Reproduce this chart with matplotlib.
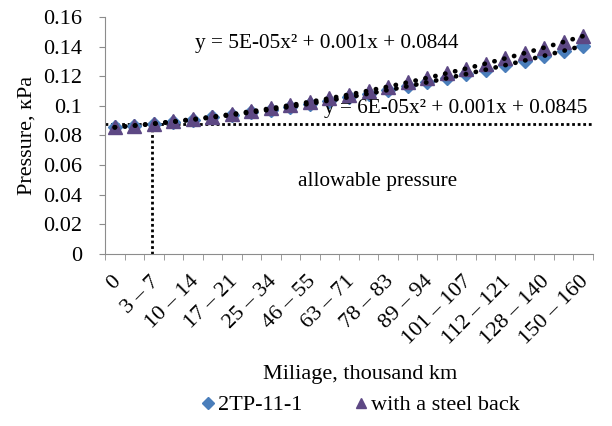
import matplotlib
matplotlib.use("Agg")
import matplotlib.pyplot as plt
import numpy as np

# shown category labels (Excel shows every second one)
shown_labels = ["0", "3 \u2013 7", "10 \u2013 14", "17 \u2013 21", "25 \u2013 34", "46 \u2013 55",
                "63 \u2013 71", "78 \u2013 83", "89 \u2013 94", "101 \u2013 107", "112 \u2013 121",
                "128 \u2013 140", "150 \u2013 160"]
n_cat = 25

p_2tp = [0.0855, 0.0866, 0.0878, 0.0892, 0.0907, 0.0922, 0.0939, 0.0956, 0.0975, 0.0994,
         0.1015, 0.1036, 0.1059, 0.1082, 0.1107, 0.1132, 0.1159, 0.1186, 0.1215, 0.1244,
         0.1275, 0.1306, 0.1339, 0.1372, 0.1405]
p_steel = [0.0856, 0.0867, 0.0880, 0.0895, 0.0910, 0.0927, 0.0944, 0.0963, 0.0984, 0.1005,
           0.1028, 0.1051, 0.1076, 0.1103, 0.1130, 0.1159, 0.1188, 0.1219, 0.1252, 0.1285,
           0.1320, 0.1355, 0.1392, 0.1431, 0.1475]
allowable = 0.088
allow_cat = 2

eq_2tp = "y = 5E-05x\u00b2 + 0.001x + 0.0844"
eq_steel = "y = 6E-05x\u00b2 + 0.001x + 0.0845"

plt.rcParams["font.family"] = ["Liberation Serif", "DejaVu Serif"]

BLUE = "#4a7ebb"
PURPLE = "#5d4884"
GRAY = "#8c8c8c"
FS = 15.3
TFS = 16

fig = plt.figure(figsize=(6.12, 4.26), dpi=100)
ax = fig.add_axes([105 / 612, 1 - 254 / 426, (593 - 105) / 612, (254 - 17) / 426])

x = np.arange(n_cat)
ax.plot(x, p_2tp, ls="none", marker="D", ms=7.5, color=BLUE, label="2TP-11-1", zorder=3)
ax.plot(x, p_steel, ls="none", marker="^", ms=10.5, color=PURPLE, label="with a steel back", zorder=4)

# polynomial trend lines (Excel-style, x = 1..n)
xs = np.linspace(0, n_cat - 1, 200)
for ys in (p_2tp, p_steel):
    c = np.polyfit(x + 1, ys, 2)
    ax.plot(xs, np.polyval(c, xs + 1), color="black", lw=3.4, ls=(0, (0.05, 2.1)),
            dash_capstyle="round", zorder=5)

# allowable pressure lines
ax.plot([-0.5, n_cat - 0.5], [allowable, allowable], color="black", lw=2, ls=(0, (1, 1)), zorder=2)
ax.plot([allow_cat - 0.08, allow_cat - 0.08], [0, allowable], color="black", lw=2, ls=(0, (1, 1)), zorder=2)

ax.text(4.1, 0.1424, eq_2tp, fontsize=FS, va="center", ha="left")
ax.text(10.7, 0.0985, eq_steel, fontsize=FS, va="center", ha="left", clip_on=False)
ax.text(9.4, 0.0488, "allowable pressure", fontsize=FS, va="center", ha="left")

ax.set_xlim(-0.5, n_cat - 0.5)
ax.set_ylim(0, 0.16)
yt = np.arange(0, 0.161, 0.02)
ax.set_yticks(yt)
ax.set_yticklabels(["0", "0.02", "0.04", "0.06", "0.08", "0.1", "0.12", "0.14", "0.16"], fontsize=TFS)

ax.set_xticks(np.arange(0, n_cat, 2) + 0.15)
ax.set_xticklabels(shown_labels, rotation=45, ha="right", va="center", rotation_mode="anchor", fontsize=TFS)
ax.set_xticks(np.arange(-0.5, n_cat, 1), minor=True)
ax.tick_params(axis="x", which="major", length=0, pad=18)
ax.tick_params(axis="x", which="minor", length=4.5, color=GRAY, direction="out")
ax.tick_params(axis="y", length=4.5, color=GRAY, direction="out", pad=12)

for s in ("top", "right"):
    ax.spines[s].set_visible(False)
for s in ("left", "bottom"):
    ax.spines[s].set_color(GRAY)

ax.set_ylabel("Pressure, \u043aPa", fontsize=TFS, labelpad=5)
fig.text(360 / 612, 1 - 375 / 426, "Miliage, thousand km", fontsize=TFS, ha="center", va="center")

fig.legend(loc="center", bbox_to_anchor=(359 / 612, 1 - 405 / 426), ncol=2, frameon=False,
           fontsize=TFS, handletextpad=0.0, columnspacing=2.2, handlelength=0.9, markerscale=0.75)

fig.savefig("out.png", dpi=100)
